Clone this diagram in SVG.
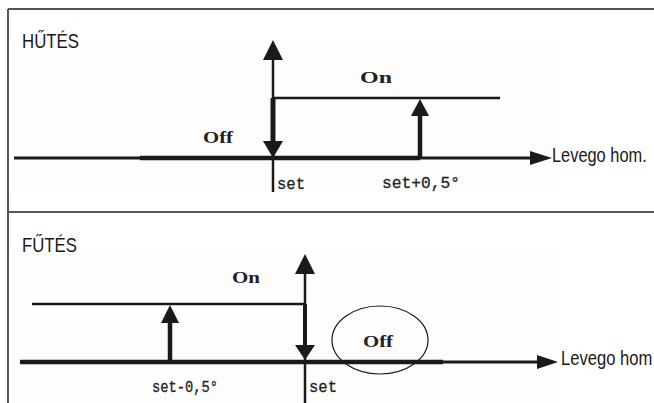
<svg xmlns="http://www.w3.org/2000/svg" width="654" height="403" viewBox="0 0 654 403">
<style>
.title{font-family:"Liberation Sans",Arial,sans-serif;font-size:21px;fill:#1a1a1a}
.state{font-family:"Liberation Serif","Times New Roman",serif;font-weight:bold;font-size:17px;fill:#222}
.lbl{font-family:"Liberation Mono","DejaVu Sans Mono",monospace;font-size:17px;fill:#222;stroke:#222;stroke-width:0.3}
.ax{stroke:#1a1a1a;fill:none}
.frame{stroke:#555;stroke-width:2;fill:none}
</style>
<rect x="0" y="0" width="654" height="403" fill="#ffffff"/>
<g id="frame">
<path class="frame" d="M8,9 H654 M8,9 V403 M8,212 H654"/>
</g>
<g id="panel-hutes">
<rect x="14" y="40" width="540" height="152" fill="#fdfdfd"/>
<text class="title" x="22" y="48" textLength="57" lengthAdjust="spacingAndGlyphs">HŰTÉS</text>
<text class="state" x="203" y="143" textLength="30" lengthAdjust="spacingAndGlyphs">Off</text>
<text class="state" x="360" y="83" textLength="32" lengthAdjust="spacingAndGlyphs">On</text>
<text class="lbl" x="277" y="189" textLength="28" lengthAdjust="spacingAndGlyphs">set</text>
<text class="lbl" x="382" y="188" textLength="78" lengthAdjust="spacingAndGlyphs">set+0,5°</text>
<text class="title" transform="translate(552,162) scale(0.78,1)">Levego hom.</text>
</g>
<g id="panel-futes">
<rect x="14" y="248" width="545" height="155" fill="#fdfdfd"/>
<text class="title" x="22" y="252" textLength="55" lengthAdjust="spacingAndGlyphs">FŰTÉS</text>
<text class="state" x="232" y="283" textLength="28" lengthAdjust="spacingAndGlyphs">On</text>
<text class="state" x="363" y="347" textLength="30" lengthAdjust="spacingAndGlyphs">Off</text>
<ellipse cx="380" cy="340" rx="48" ry="34" fill="none" stroke="#1a1a1a" stroke-width="1.2"/>
<text class="lbl" x="152" y="392" textLength="66" lengthAdjust="spacingAndGlyphs">set-0,5°</text>
<text class="lbl" x="309" y="392" textLength="28" lengthAdjust="spacingAndGlyphs">set</text>
<text class="title" transform="translate(561,365) scale(0.79,1)">Levego hom</text>
</g>
<g id="connectors">
<line class="ax" x1="14" y1="158" x2="530" y2="158" stroke-width="3"/>
<polygon points="530,151 552,158 530,165" fill="#1a1a1a"/>
<line class="ax" x1="140" y1="158" x2="420" y2="158" stroke-width="4.5"/>
<line class="ax" x1="273" y1="58" x2="273" y2="192" stroke-width="2.5"/>
<polygon points="263,60 273,40 283,60" fill="#1a1a1a"/>
<line class="ax" x1="273" y1="98" x2="500" y2="98" stroke-width="2.5"/>
<line class="ax" x1="273" y1="98" x2="273" y2="142" stroke-width="5"/>
<polygon points="263,141 283,141 273,158" fill="#1a1a1a"/>
<line class="ax" x1="420" y1="158" x2="420" y2="112" stroke-width="4.5"/>
<polygon points="411,116 420,99 429,116" fill="#1a1a1a"/>
<line class="ax" x1="20" y1="362" x2="538" y2="362" stroke-width="3"/>
<polygon points="537,355 558,362 537,369" fill="#1a1a1a"/>
<line class="ax" x1="20" y1="362" x2="443" y2="362" stroke-width="4.5"/>
<line class="ax" x1="305" y1="270" x2="305" y2="403" stroke-width="2.5"/>
<polygon points="295,274 305,254 315,274" fill="#1a1a1a"/>
<line class="ax" x1="32" y1="304" x2="305" y2="304" stroke-width="2.5"/>
<line class="ax" x1="305" y1="304" x2="305" y2="346" stroke-width="4"/>
<polygon points="295,345 315,345 305,360" fill="#1a1a1a"/>
<line class="ax" x1="170" y1="362" x2="170" y2="318" stroke-width="4.5"/>
<polygon points="161,323 170,305 179,323" fill="#1a1a1a"/>
</g>
</svg>
